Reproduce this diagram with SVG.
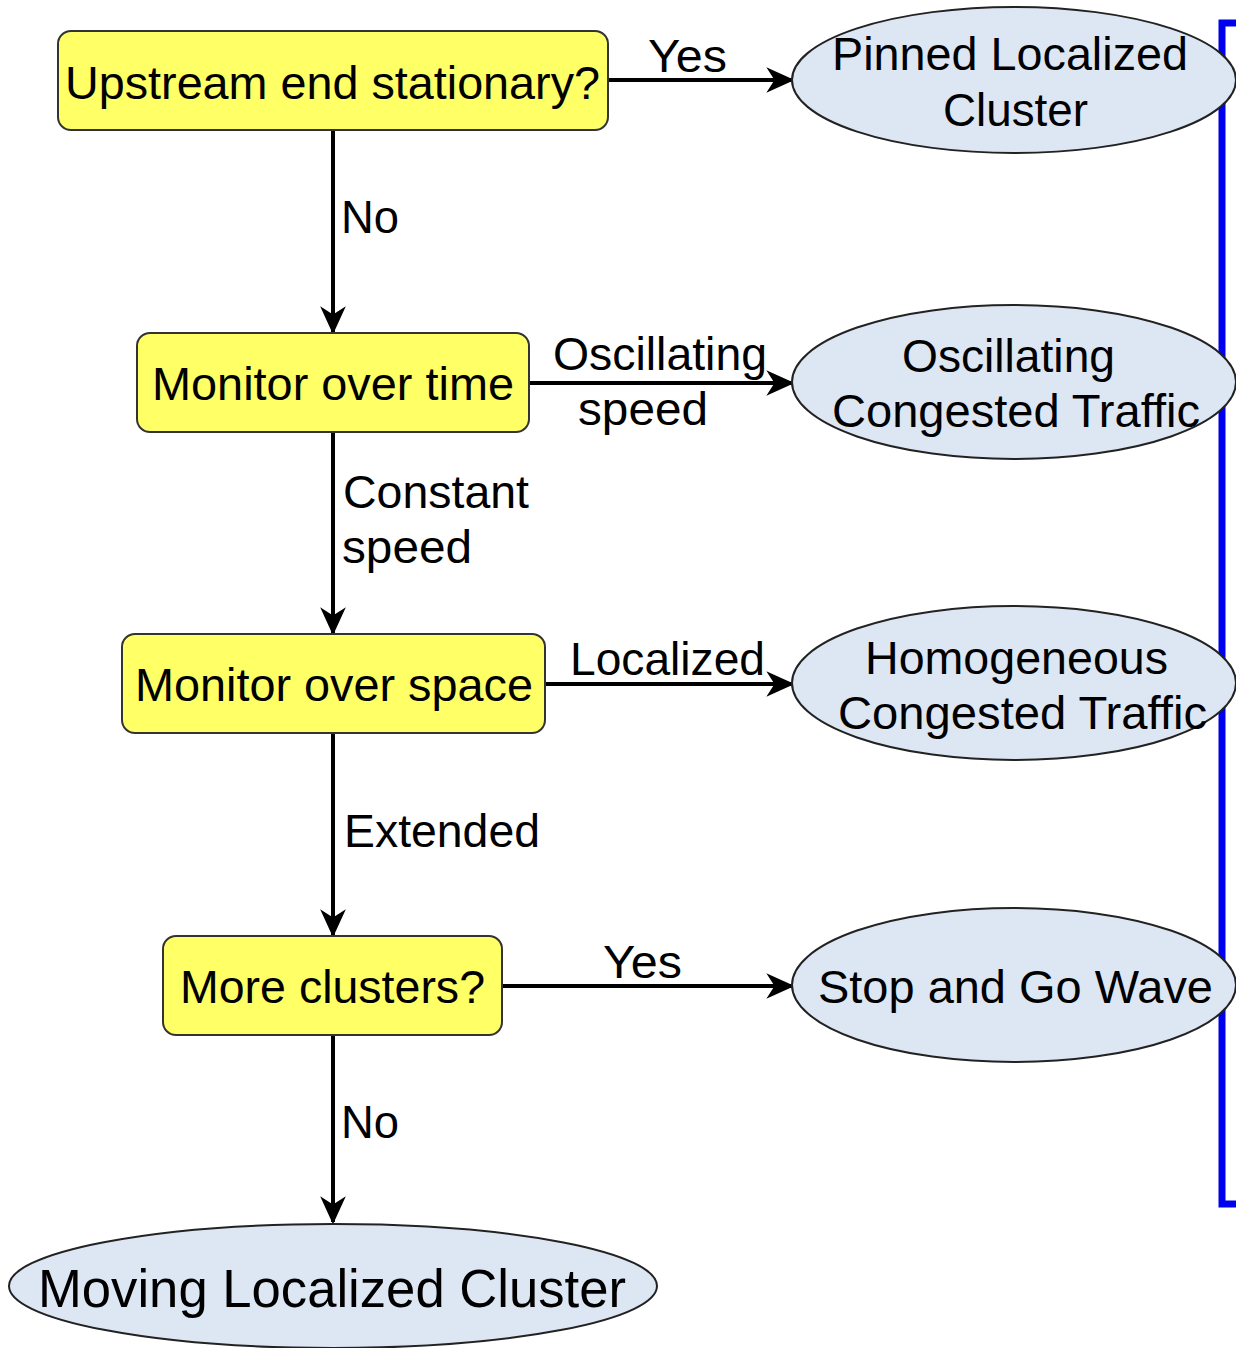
<svg xmlns="http://www.w3.org/2000/svg" width="1236" height="1348" viewBox="0 0 1236 1348">
<style>
.box{fill:#FFFF66;stroke:#333;stroke-width:2}
.ell{fill:#DDE6F3;stroke:#222;stroke-width:2}
.t{font-family:"Liberation Sans",Arial,sans-serif;font-size:46px;fill:#000}
.big{font-size:53px}
.con{stroke:#000;stroke-width:4;fill:none}
</style>
<defs>
<marker id="ah" viewBox="0 0 24 24" refX="22" refY="12" markerWidth="28" markerHeight="28" markerUnits="userSpaceOnUse" orient="auto">
<path d="M0,1 L24,12 L0,23 L7,12 z" fill="#000"/>
</marker>
</defs>
<rect width="1236" height="1348" fill="#fff"/>
<g id="bracket">
<path d="M1236,23 H1222 V1204 H1236" fill="none" stroke="#0000EE" stroke-width="7"/>
</g>
<g id="connectors">
<line class="con" x1="608" y1="80" x2="792" y2="80" marker-end="url(#ah)"/>
<line class="con" x1="333" y1="130" x2="333" y2="332" marker-end="url(#ah)"/>
<line class="con" x1="529" y1="383" x2="792" y2="383" marker-end="url(#ah)"/>
<line class="con" x1="333" y1="432" x2="333" y2="633" marker-end="url(#ah)"/>
<line class="con" x1="545" y1="684" x2="792" y2="684" marker-end="url(#ah)"/>
<line class="con" x1="333" y1="733" x2="333" y2="935" marker-end="url(#ah)"/>
<line class="con" x1="502" y1="986" x2="792" y2="986" marker-end="url(#ah)"/>
<line class="con" x1="333" y1="1035" x2="333" y2="1222" marker-end="url(#ah)"/>
<text class="t" x="648" y="72" textLength="79" lengthAdjust="spacingAndGlyphs">Yes</text>
<text class="t" x="341" y="233" textLength="58" lengthAdjust="spacingAndGlyphs">No</text>
<text class="t" x="553" y="370" textLength="214" lengthAdjust="spacingAndGlyphs">Oscillating</text>
<text class="t" x="578" y="425" textLength="130" lengthAdjust="spacingAndGlyphs">speed</text>
<text class="t" x="343" y="508" textLength="186" lengthAdjust="spacingAndGlyphs">Constant</text>
<text class="t" x="342" y="563" textLength="130" lengthAdjust="spacingAndGlyphs">speed</text>
<text class="t" x="570" y="675" textLength="195" lengthAdjust="spacingAndGlyphs">Localized</text>
<text class="t" x="344" y="847" textLength="196" lengthAdjust="spacingAndGlyphs">Extended</text>
<text class="t" x="603" y="978" textLength="79" lengthAdjust="spacingAndGlyphs">Yes</text>
<text class="t" x="341" y="1138" textLength="58" lengthAdjust="spacingAndGlyphs">No</text>
</g>
<g id="n1">
<rect class="box" x="58" y="31" width="550" height="99" rx="13"/>
<text class="t" x="65" y="99" textLength="535" lengthAdjust="spacingAndGlyphs">Upstream end stationary?</text>
</g>
<g id="n2">
<rect class="box" x="137" y="333" width="392" height="99" rx="13"/>
<text class="t" x="152" y="400" textLength="362" lengthAdjust="spacingAndGlyphs">Monitor over time</text>
</g>
<g id="n3">
<rect class="box" x="122" y="634" width="423" height="99" rx="13"/>
<text class="t" x="135" y="701" textLength="398" lengthAdjust="spacingAndGlyphs">Monitor over space</text>
</g>
<g id="n4">
<rect class="box" x="163" y="936" width="339" height="99" rx="13"/>
<text class="t" x="180" y="1003" textLength="305" lengthAdjust="spacingAndGlyphs">More clusters?</text>
</g>
<g id="e1">
<ellipse class="ell" cx="1014" cy="80" rx="222" ry="73"/>
<text class="t" x="832" y="70" textLength="356" lengthAdjust="spacingAndGlyphs">Pinned Localized</text>
<text class="t" x="943" y="126" textLength="145" lengthAdjust="spacingAndGlyphs">Cluster</text>
</g>
<g id="e2">
<ellipse class="ell" cx="1014" cy="382" rx="222" ry="77"/>
<text class="t" x="902" y="372" textLength="213" lengthAdjust="spacingAndGlyphs">Oscillating</text>
<text class="t" x="832" y="427" textLength="368" lengthAdjust="spacingAndGlyphs">Congested Traffic</text>
</g>
<g id="e3">
<ellipse class="ell" cx="1014" cy="683" rx="222" ry="77"/>
<text class="t" x="865" y="674" textLength="303" lengthAdjust="spacingAndGlyphs">Homogeneous</text>
<text class="t" x="838" y="729" textLength="369" lengthAdjust="spacingAndGlyphs">Congested Traffic</text>
</g>
<g id="e4">
<ellipse class="ell" cx="1014" cy="985" rx="222" ry="77"/>
<text class="t" x="818" y="1003" textLength="395" lengthAdjust="spacingAndGlyphs">Stop and Go Wave</text>
</g>
<g id="e5">
<ellipse class="ell" cx="333" cy="1286" rx="324" ry="62"/>
<text class="t big" x="38" y="1307" textLength="588" lengthAdjust="spacingAndGlyphs">Moving Localized Cluster</text>
</g>
</svg>
